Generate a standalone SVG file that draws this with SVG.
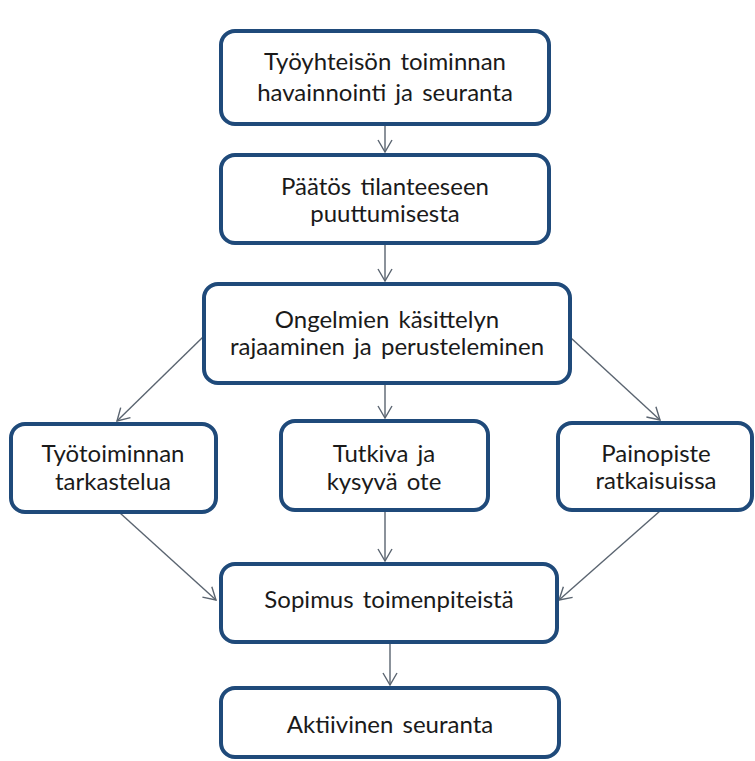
<svg xmlns="http://www.w3.org/2000/svg" width="755" height="761" viewBox="0 0 755 761">
<defs>
<style>
.box{fill:#ffffff;stroke:#1f4a7a;stroke-width:4}
.t{font-family:Lato,"Open Sans",sans-serif;font-size:24px;fill:#1a1a1a;text-anchor:middle;word-spacing:3px}
.c{fill:none;stroke:#5a6470;stroke-width:1.4}
</style>
<marker id="ar" viewBox="0 0 14 16" refX="13" refY="8" markerWidth="14" markerHeight="16" markerUnits="userSpaceOnUse" orient="auto">
<path d="M1,1 L13,8 L1,15" fill="none" stroke="#5a6470" stroke-width="1.4"/>
</marker>
</defs>
<rect width="755" height="761" fill="#ffffff"/>
<g id="connectors">
<line class="c" x1="385" y1="125" x2="385" y2="152" marker-end="url(#ar)"/>
<line class="c" x1="385" y1="244" x2="385" y2="281" marker-end="url(#ar)"/>
<line class="c" x1="203" y1="337" x2="117" y2="421" marker-end="url(#ar)"/>
<line class="c" x1="385" y1="384" x2="385" y2="418" marker-end="url(#ar)"/>
<line class="c" x1="571" y1="338" x2="660" y2="420" marker-end="url(#ar)"/>
<line class="c" x1="120" y1="513" x2="216" y2="600" marker-end="url(#ar)"/>
<line class="c" x1="385" y1="511" x2="385" y2="561" marker-end="url(#ar)"/>
<line class="c" x1="660" y1="511" x2="559" y2="600" marker-end="url(#ar)"/>
<line class="c" x1="390" y1="643" x2="390" y2="685" marker-end="url(#ar)"/>
</g>
<g id="n1">
<rect class="box" x="221" y="31" width="328" height="93" rx="14"/>
<text class="t" x="385" y="70">Työyhteisön toiminnan</text>
<text class="t" x="385" y="101">havainnointi ja seuranta</text>
</g>
<g id="n2">
<rect class="box" x="221" y="155" width="328" height="88" rx="14"/>
<text class="t" x="385" y="195">Päätös tilanteeseen</text>
<text class="t" x="385" y="222">puuttumisesta</text>
</g>
<g id="n3">
<rect class="box" x="204" y="284" width="366" height="99" rx="14"/>
<text class="t" x="387" y="328">Ongelmien käsittelyn</text>
<text class="t" x="387" y="355">rajaaminen ja perusteleminen</text>
</g>
<g id="n4">
<rect class="box" x="11" y="424" width="205" height="88" rx="14"/>
<text class="t" x="113" y="462">Työtoiminnan</text>
<text class="t" x="113" y="490">tarkastelua</text>
</g>
<g id="n5">
<rect class="box" x="281" y="421" width="207" height="89" rx="14"/>
<text class="t" x="384" y="462">Tutkiva ja</text>
<text class="t" x="384" y="490">kysyvä ote</text>
</g>
<g id="n6">
<rect class="box" x="558" y="423" width="194" height="87" rx="14"/>
<text class="t" x="656" y="462">Painopiste</text>
<text class="t" x="656" y="489">ratkaisuissa</text>
</g>
<g id="n7">
<rect class="box" x="221" y="564" width="336" height="78" rx="14"/>
<text class="t" x="389" y="608">Sopimus toimenpiteistä</text>
</g>
<g id="n8">
<rect class="box" x="221" y="688" width="338" height="69" rx="14"/>
<text class="t" x="390" y="733">Aktiivinen seuranta</text>
</g>
</svg>
